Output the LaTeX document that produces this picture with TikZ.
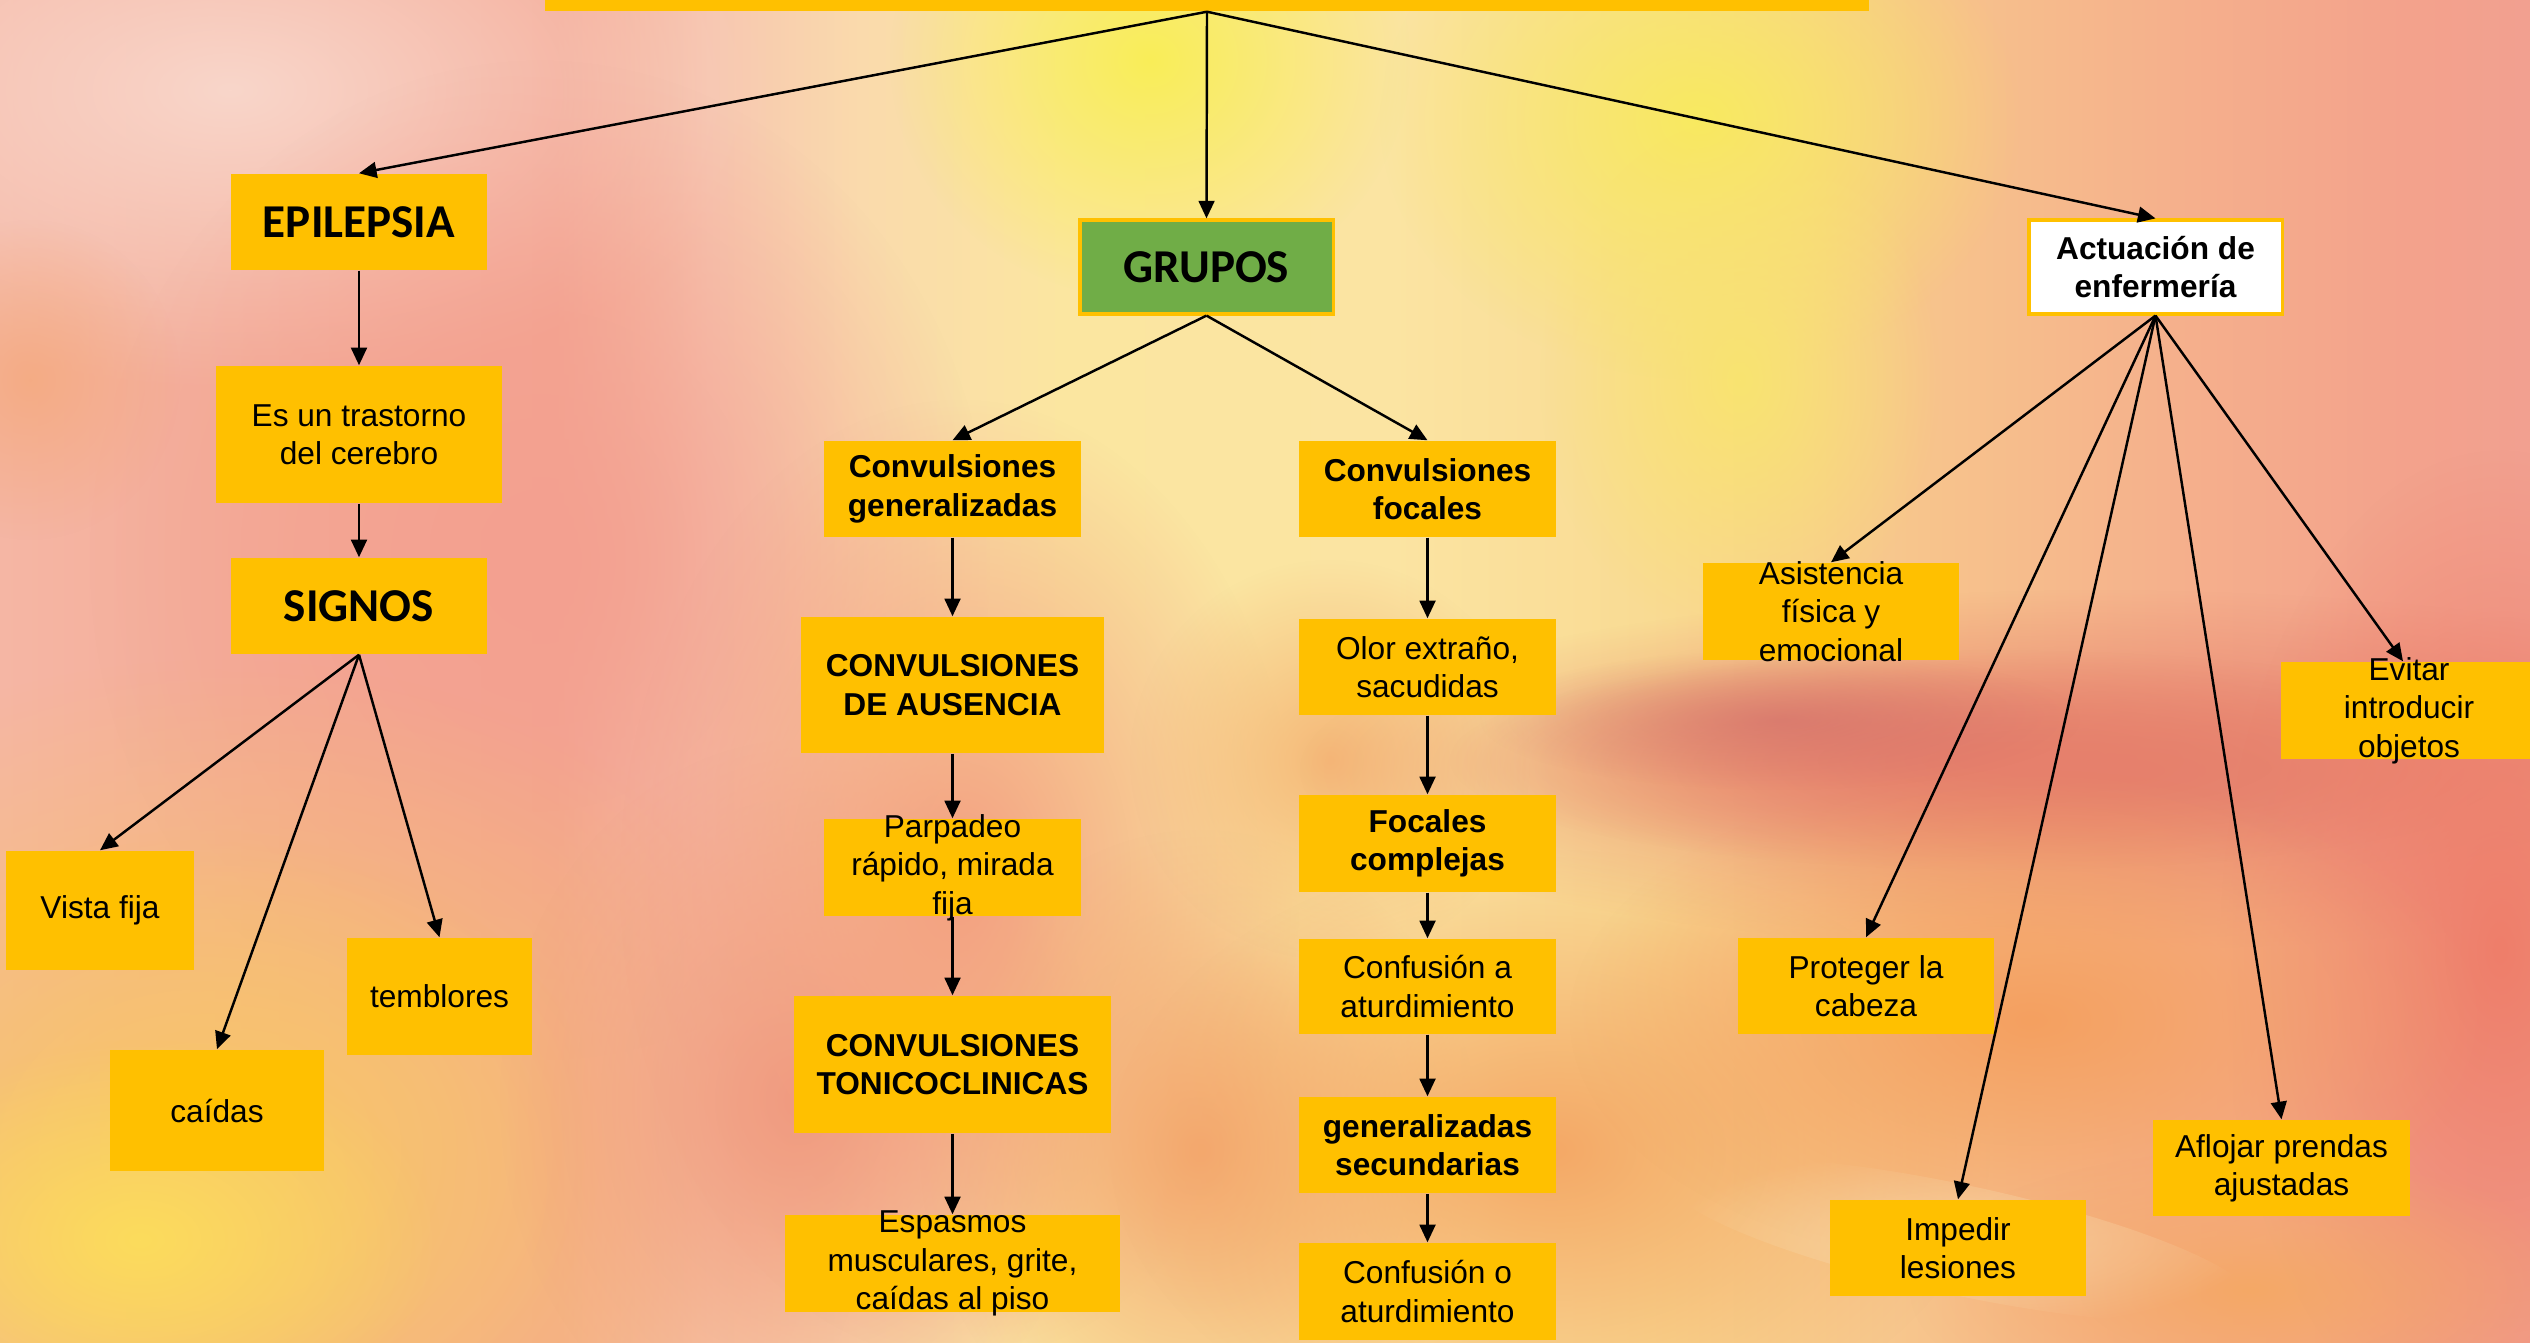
\documentclass[tikz,border=0pt]{standalone}
\usepackage{fontspec}
\setmainfont{Liberation Sans}
\newfontfamily\calfont{Carlito}
\usetikzlibrary{arrows.meta,fadings}
\definecolor{boxc}{HTML}{FFC000}
\definecolor{grn}{HTML}{70AD47}
\definecolor{b0}{HTML}{F5B6A4}
\definecolor{b1}{HTML}{F4AC98}
\definecolor{b2}{HTML}{F4A692}
\definecolor{b3}{HTML}{F7C6B0}
\definecolor{b4}{HTML}{FADAAC}
\definecolor{b5}{HTML}{FBE6A0}
\definecolor{b6}{HTML}{FBE4A2}
\definecolor{b7}{HTML}{F9DA92}
\definecolor{b8}{HTML}{F7C48C}
\definecolor{b9}{HTML}{F5B08C}
\definecolor{b10}{HTML}{F3A28C}
\definecolor{b11}{HTML}{F2A090}
\definecolor{k1}{HTML}{F9D6CA}
\definecolor{k2}{HTML}{F3A090}
\definecolor{k3}{HTML}{F9EE58}
\definecolor{k4}{HTML}{F8EA60}
\definecolor{k5}{HTML}{F9E470}
\definecolor{k6}{HTML}{F4A878}
\definecolor{k7}{HTML}{F8C46C}
\definecolor{k8}{HTML}{FCDC5C}
\definecolor{k9}{HTML}{F09880}
\definecolor{k10}{HTML}{F3A080}
\definecolor{k11}{HTML}{F3A870}
\definecolor{k12}{HTML}{E6806C}
\definecolor{k13}{HTML}{D06C6A}
\definecolor{k14}{HTML}{EE7E6A}
\definecolor{k15}{HTML}{F4A866}
\definecolor{k16}{HTML}{F4A060}
\definecolor{k17}{HTML}{F8D8A8}
\definecolor{k18}{HTML}{F5B878}
\pgfdeclarehorizontalshading{bgH}{100bp}{color(0bp)=(b0); color(25bp)=(b0); color(30bp)=(b1); color(36bp)=(b2); color(39bp)=(b3); color(42bp)=(b4); color(46bp)=(b5); color(52.5bp)=(b6); color(58bp)=(b7); color(63bp)=(b8); color(68bp)=(b9); color(72.5bp)=(b10); color(75bp)=(b11); color(100bp)=(b11)}
\tikzfading[name=blobfade, inner color=transparent!0, outer color=transparent!100]
\tikzset{
  box/.style={fill=boxc, draw=none, inner sep=0pt, align=center, font=\fontsize{9}{10.9}\selectfont},
  bbox/.style={box, font=\fontsize{9}{10.9}\selectfont\bfseries},
  cbox/.style={box, font=\calfont\bfseries\fontsize{13.4}{16}\selectfont},
  txt/.style={align=center, inner sep=0pt, font=\fontsize{9}{10.9}\selectfont},
  sz/.style 2 args={minimum width=#1, minimum height=#2},
  conn/.style={-{Triangle[length=5pt,width=4.5pt]}, line width=0.7pt},
  blob/.style={path fading=blobfade, fill=#1}
}
\begin{document}
\begin{tikzpicture}[x=0.01cm,y=-0.01cm]
\clip (0,0) rectangle (2530,1342);
% background
\shade[shading=bgH] (0,0) rectangle (2530,1342);
\fill[blob=k1] (230,90) ellipse (5.5cm and 3cm);
\fill[blob=k2] (540,560) ellipse (4.5cm and 5cm);
\fill[blob=k6, opacity=0.7] (30,380) ellipse (1.5cm and 1.6cm);
\fill[blob=k3] (1150,60) ellipse (2.6cm and 2.4cm);
\fill[blob=k4] (1700,120) ellipse (3.2cm and 2.6cm);
\fill[blob=k5] (1740,380) ellipse (2cm and 2.6cm);
\fill[blob=k7] (220,1180) ellipse (6.5cm and 5.2cm);
\fill[blob=k7] (200,1150) ellipse (4cm and 3.2cm);
\fill[blob=k8] (140,1240) ellipse (3cm and 2cm);
\fill[blob=k9] (800,1100) ellipse (3cm and 3.6cm);
\fill[blob=k10] (960,880) ellipse (3.4cm and 4.8cm);
\fill[blob=k11] (1200,1150) ellipse (2.8cm and 3.2cm);
\fill[blob=k18] (1330,760) ellipse (2cm and 2cm);
\fill[blob=k12] (2100,770) ellipse (8cm and 1.8cm);
\fill[blob=k12] (2000,760) ellipse (5.5cm and 1.1cm);
\fill[blob=k13, opacity=0.6] (1780,720) ellipse (3cm and 0.7cm);
\fill[blob=k14] (2500,950) ellipse (2.8cm and 5cm);
\fill[blob=k15] (1550,1150) ellipse (4.4cm and 3cm);
\fill[blob=k16] (2030,1020) ellipse (4.6cm and 2.5cm);
\fill[blob=k15] (2250,1290) ellipse (3.4cm and 1.4cm);
\fill[blob=k17, opacity=0.7, rotate around={-12:(1960,1240)}] (1960,1240) ellipse (3cm and 0.55cm);
% nodes
\node[box, sz={13.24cm}{0.6cm}] (top) at (1207,-19) {};
\node[cbox, sz={2.56cm}{0.96cm}] (epi) at (359,222) {EPILEPSIA};
\node[box, sz={2.86cm}{1.37cm}] (tras) at (359,434.5) {Es un trastorno\\del cerebro};
\node[cbox, sz={2.56cm}{0.96cm}] (sig) at (359,606) {SIGNOS};
\node[box, sz={1.88cm}{1.19cm}] (vista) at (100,910.5) {Vista fija};
\node[box, sz={2.14cm}{1.21cm}] (caidas) at (217,1110.5) {caídas};
\node[box, sz={1.85cm}{1.17cm}] (tembl) at (439.5,996.5) {temblores};

\node[cbox, fill=grn, draw=boxc, line width=0.9pt, sz={2.53cm}{0.94cm}] (grupos) at (1206.5,267) {GRUPOS};
\node[bbox, sz={2.57cm}{0.96cm}] (cgen) at (952.5,489) {Convulsiones\\generalizadas};
\node[bbox, sz={3.03cm}{1.36cm}] (aus) at (952.5,685) {CONVULSIONES\\DE AUSENCIA};
\node[box, sz={2.57cm}{0.97cm}, label={[txt]center:{Parpadeo\\rápido, mirada\\fija}}] (parp) at (952.5,867.5) {};
\node[bbox, sz={3.17cm}{1.37cm}] (tonico) at (952.5,1064.5) {CONVULSIONES\\TONICOCLINICAS};
\node[box, sz={3.35cm}{0.97cm}, label={[txt]center:{Espasmos\\musculares, grite,\\caídas al piso}}] (esp) at (952.5,1263.5) {};

\node[bbox, sz={2.57cm}{0.96cm}] (cfoc) at (1427.5,489) {Convulsiones\\focales};
\node[box, sz={2.57cm}{0.96cm}] (olor) at (1427.5,667) {Olor extraño,\\sacudidas};
\node[bbox, sz={2.57cm}{0.97cm}] (fcomp) at (1427.5,843.5) {Focales\\complejas};
\node[box, sz={2.57cm}{0.95cm}] (confa) at (1427.5,986.5) {Confusión a\\aturdimiento};
\node[bbox, sz={2.57cm}{0.96cm}] (gsec) at (1427.5,1145) {generalizadas\\secundarias};
\node[box, sz={2.57cm}{0.97cm}] (confo) at (1427.5,1291.5) {Confusión o\\aturdimiento};

\node[bbox, fill=white, draw=boxc, line width=0.9pt, sz={2.53cm}{0.94cm}] (act) at (2155.5,267) {Actuación de\\enfermería};
\node[box, sz={2.56cm}{0.97cm}, label={[txt]center:{Asistencia\\física y\\emocional}}] (asist) at (1831,611.5) {};
\node[box, sz={2.56cm}{0.97cm}, label={[txt]center:{Evitar\\introducir\\objetos}}] (evitar) at (2409,710.5) {};
\node[box, sz={2.56cm}{0.96cm}] (prot) at (1866,986) {Proteger la\\cabeza};
\node[box, sz={2.56cm}{0.96cm}] (imped) at (1958,1248) {Impedir\\lesiones};
\node[box, sz={2.57cm}{0.96cm}] (aflo) at (2281.5,1168) {Aflojar prendas\\ajustadas};

% connectors
\draw[conn] (top.south) -- (epi.north);
\draw[conn] (top.south) -- (grupos.north);
\draw[conn] (top.south) -- (act.north);
\draw[conn] (epi.south) -- (tras.north);
\draw[conn] (tras.south) -- (sig.north);
\draw[conn] (sig.south) -- (vista.north);
\draw[conn] (sig.south) -- (caidas.north);
\draw[conn] (sig.south) -- (tembl.north);
\draw[conn] (grupos.south) -- (cgen.north);
\draw[conn] (grupos.south) -- (cfoc.north);
\draw[conn] (cgen.south) -- (aus.north);
\draw[conn] (aus.south) -- (parp.north);
\draw[conn] (parp.south) -- (tonico.north);
\draw[conn] (tonico.south) -- (esp.north);
\draw[conn] (cfoc.south) -- (olor.north);
\draw[conn] (olor.south) -- (fcomp.north);
\draw[conn] (fcomp.south) -- (confa.north);
\draw[conn] (confa.south) -- (gsec.north);
\draw[conn] (gsec.south) -- (confo.north);
\draw[conn] (act.south) -- (asist.north);
\draw[conn] (act.south) -- (prot.north);
\draw[conn] (act.south) -- (imped.north);
\draw[conn] (act.south) -- (aflo.north);
\draw[conn] (act.south) -- ([xshift=-0.06cm]evitar.north);
\end{tikzpicture}
\end{document}
